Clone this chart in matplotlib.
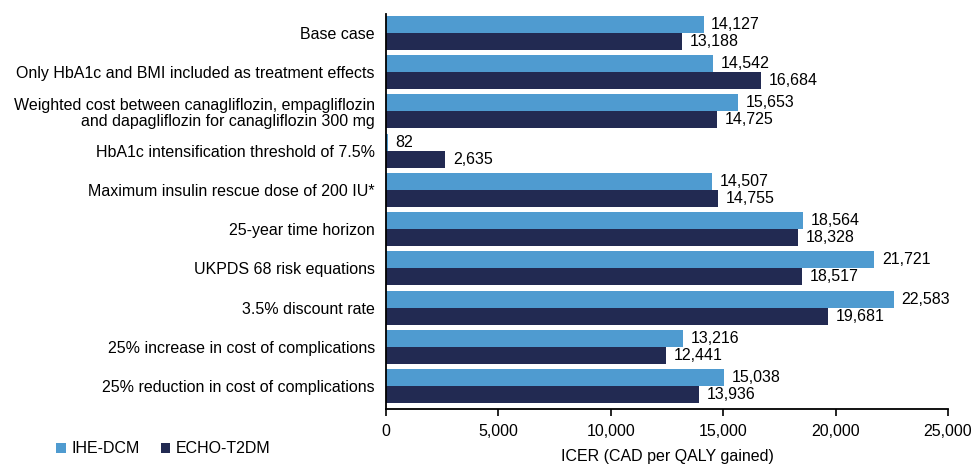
import matplotlib
matplotlib.use("Agg")
import matplotlib.pyplot as plt
import numpy as np
from matplotlib.ticker import FuncFormatter

categories = [
    "Base case",
    "Only HbA1c and BMI included as treatment effects",
    "Weighted cost between canagliflozin, empagliflozin\nand dapagliflozin for canagliflozin 300 mg",
    "HbA1c intensification threshold of 7.5%",
    "Maximum insulin rescue dose of 200 IU*",
    "25-year time horizon",
    "UKPDS 68 risk equations",
    "3.5% discount rate",
    "25% increase in cost of complications",
    "25% reduction in cost of complications",
]
ihe_dcm = [14127, 14542, 15653, 82, 14507, 18564, 21721, 22583, 13216, 15038]
echo_t2dm = [13188, 16684, 14725, 2635, 14755, 18328, 18517, 19681, 12441, 13936]
series_names = ["IHE-DCM", "ECHO-T2DM"]
xticks = [0, 5000, 10000, 15000, 20000, 25000]

plt.rcParams['font.family'] = ['Liberation Sans', 'DejaVu Sans']
c1 = "#4F9BD0"
c2 = "#222A52"
fs = 11.5

fig = plt.figure(figsize=(9.73, 4.65), dpi=100)
ax = fig.add_axes([386/973, 1 - 409/465, 562/973, (409 - 14)/465])

y = np.arange(len(categories))
h = 0.434
b1 = ax.barh(y - h/2, ihe_dcm, height=h, color=c1, label=series_names[0])
b2 = ax.barh(y + h/2, echo_t2dm, height=h, color=c2, label=series_names[1])
for bars, vals in ((b1, ihe_dcm), (b2, echo_t2dm)):
    for bar, v in zip(bars, vals):
        ax.annotate(f"{v:,}", xy=(v, bar.get_y() + bar.get_height()/2),
                    xytext=(5.5, 0), textcoords='offset points',
                    va='center', ha='left', fontsize=fs, color='black')

ax.set_ylim(9.587, -0.485)
ax.set_xlim(0, 25000)
ax.set_yticks(y)
ax.set_yticklabels(categories, fontsize=fs, linespacing=1.1)
ax.tick_params(axis='y', length=0, pad=8)
ax.set_xticks(xticks)
ax.xaxis.set_major_formatter(FuncFormatter(lambda v, p: f"{int(v):,}"))
ax.tick_params(axis='x', direction='out', length=5, width=1.2, labelsize=fs, pad=6)
for s in ['top', 'right']:
    ax.spines[s].set_visible(False)
for s in ['left', 'bottom']:
    ax.spines[s].set_linewidth(1.3)
ax.set_xlabel("ICER (CAD per QALY gained)", fontsize=fs, labelpad=7)

fig.legend(handles=[b1, b2], labels=series_names, loc='lower left',
           bbox_to_anchor=(0.043, -0.012), ncol=2, frameon=False, fontsize=fs,
           handlelength=0.6, handleheight=0.6, handletextpad=0.35, columnspacing=1.3)

fig.savefig("out.png", dpi=100)
